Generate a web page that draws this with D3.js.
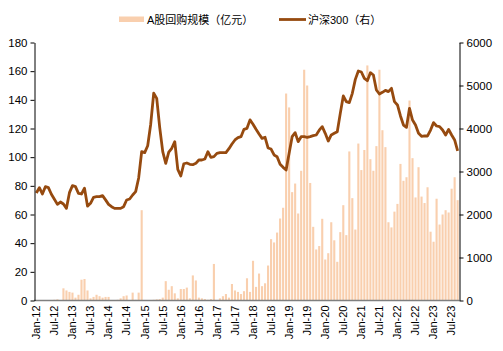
<!DOCTYPE html>
<html>
<head>
<meta charset="utf-8">
<script src="https://cdn.jsdelivr.net/npm/d3@7"></script>
<style>
  html, body { margin: 0; padding: 0; background: #fff; }
  svg text { font-family: "Liberation Sans", "Noto Sans CJK SC", Arial, sans-serif; fill: #000; }
</style>
</head>
<body>
<div id="chart"></div>
<script>

  // ---------------------------//
  //            DATA            //
  // ---------------------------//

  // monthly, Jan-12 .. Sep-23
  var startMonth = new Date(2012, 0, 1);
  var monthCount = 141;

  // A股回购规模（亿元）
  var buyback = [
    0, 0, 0, 0, 0, 0, 0.5, 0.8, 0.3, 8.5, 7, 6,
    5.5, 2, 4, 14.5, 15, 7, 1.5, 2.5, 4, 3, 2, 2.5,
    2.5, 0.3, 0.2, 0.5, 1.5, 3, 3.5, 0.3, 5.5, 0.5, 5.5, 63,
    0.2, 0.3, 0.3, 0.5, 0.8, 1, 2, 13.5, 7.5, 10, 5, 1.5,
    8, 8, 9, 1.5, 17.5, 14, 2, 1.5, 1, 0.5, 1, 25.5,
    0.3, 1.5, 3, 4.5, 2, 11.5, 7, 6, 4.5, 6.5, 15.5, 6,
    27.7, 9.5, 18.8, 10, 12, 24.4, 42.8, 40.5, 47.4, 57.2, 64.7, 144.4,
    134.7, 75.6, 81.6, 60.7, 90.5, 161, 150, 82, 51.4, 35.6, 38, 57,
    28.6, 33, 54.6, 42, 27, 47.7, 66.5, 45.6, 104, 71.4, 49.5, 109.5,
    91, 105, 164, 98.6, 90.5, 107.7, 161, 118.8, 107, 54.6, 51, 62,
    67.4, 95.3, 83.5, 86, 139.5, 99.3, 71.9, 93, 72.5, 68, 79, 48,
    41, 71, 53, 60, 63, 61.4, 78, 86, 70
  ];

  // 沪深300（右）
  var csi300 = [
    2500, 2625, 2477, 2647, 2624, 2470, 2353, 2236, 2290, 2244, 2143, 2508,
    2671, 2647, 2492, 2477, 2610, 2195, 2260, 2399, 2415, 2415, 2438, 2340,
    2236, 2182, 2143, 2143, 2143, 2182, 2337, 2360, 2453, 2531, 2850, 3461,
    3438, 3600, 4100, 4820, 4700, 4020, 3461, 3190, 3450, 3540, 3694, 3050,
    2895, 3180, 3198, 3167, 3159, 3190, 3267, 3267, 3290, 3461, 3329, 3345,
    3422, 3438, 3438, 3438, 3531, 3640, 3733, 3787, 3810, 3981, 4004, 4200,
    4100, 3981, 3872, 3771, 3795, 3547, 3523, 3384, 3345, 3167, 3097, 3035,
    3422, 3810, 3903, 3694, 3810, 3810, 3795, 3810, 3833, 3849, 3960, 4043,
    3888, 3709, 3849, 3888, 3926, 4352, 4756, 4624, 4601, 4818, 5143, 5337,
    5314, 5167, 5112, 5298, 5244, 4895, 4802, 4841, 4887, 4857, 4934, 4624,
    4547, 4291, 4081, 4027, 4470, 4198, 4081, 3888, 3818, 3826, 3826, 3965,
    4136, 4058, 4043, 3965, 3849, 3980, 3849, 3733, 3480
  ];

  var xTickLabels = [
    "Jan-12", "Jul-12", "Jan-13", "Jul-13", "Jan-14", "Jul-14", "Jan-15", "Jul-15",
    "Jan-16", "Jul-16", "Jan-17", "Jul-17", "Jan-18", "Jul-18", "Jan-19", "Jul-19",
    "Jan-20", "Jul-20", "Jan-21", "Jul-21", "Jan-22", "Jul-22", "Jan-23", "Jul-23"
  ];
  var leftTicks = [0, 20, 40, 60, 80, 100, 120, 140, 160, 180];
  var rightTicks = [0, 1000, 2000, 3000, 4000, 5000, 6000];
  var legendNames = ["A股回购规模（亿元）", "沪深300（右）"];

  var months = d3.timeMonth.range(startMonth, d3.timeMonth.offset(startMonth, monthCount));
  var fmt = d3.timeFormat("%b-%y");

  var data = months.map(function(m, i) {
    return { month: fmt(m), buyback: buyback[i], csi: csi300[i] };
  });

  // ---------------------------//
  //         DIMENSIONS         //
  // ---------------------------//

  var width = 503;
  var height = 351;
  var margin = { top: 42.5, right: 44, bottom: 50.5, left: 35 };

  var barColor = "#f9cfae";
  var lineColor = "#964a0f";

  var svg = d3.select("#chart")
    .append("svg")
    .attr("width", width)
    .attr("height", height);

  // ---------------------------//
  //       AXIS  AND SCALE      //
  // ---------------------------//

  var x = d3.scaleBand()
    .domain(data.map(function(d) { return d.month; }))
    .range([margin.left, width - margin.right])
    .paddingInner(0.3)
    .paddingOuter(0.1);

  var yLeft = d3.scaleLinear()
    .domain([0, 180])
    .range([height - margin.bottom, margin.top]);

  var yRight = d3.scaleLinear()
    .domain([0, 6000])
    .range([height - margin.bottom, margin.top]);

  svg.append("g")
    .selectAll("rect")
    .data(data)
    .enter()
    .append("rect")
    .attr("x", function(d) { return x(d.month); })
    .attr("y", function(d) { return yLeft(d.buyback); })
    .attr("width", x.bandwidth())
    .attr("height", function(d) { return yLeft(0) - yLeft(d.buyback); })
    .attr("fill", barColor);

  var line = d3.line()
    .x(function(d) { return x(d.month) + x.bandwidth() / 2; })
    .y(function(d) { return yRight(d.csi); });

  svg.append("path")
    .datum(data)
    .attr("fill", "none")
    .attr("stroke", lineColor)
    .attr("stroke-width", 2.8)
    .attr("stroke-linejoin", "round")
    .attr("d", line);

  // x axis
  var xAxis = svg.append("g")
    .attr("transform", "translate(0," + (height - margin.bottom) + ")")
    .call(d3.axisBottom(x)
      .tickValues(xTickLabels)
      .tickSize(0)
      .tickSizeOuter(0));
  xAxis.select(".domain")
    .attr("stroke", "#7f7f7f")
    .attr("stroke-width", 1.3)
    .attr("d", "M" + (margin.left - 1) + ",0H" + (width - margin.right));
  xAxis.selectAll("text")
    .style("font-size", "11px")
    .attr("transform", "rotate(-90)")
    .attr("text-anchor", "end")
    .attr("dy", "0.35em")
    .attr("x", -5)
    .attr("y", 0);

  // left axis
  var leftAxis = svg.append("g")
    .attr("transform", "translate(" + (margin.left - 0.5) + ",0)")
    .call(d3.axisLeft(yLeft).tickValues(leftTicks).tickSize(4).tickSizeOuter(0).tickPadding(3));
  leftAxis.selectAll("text").style("font-size", "11.5px");
  leftAxis.select(".domain").attr("stroke", "#000");

  // right axis
  var rightAxis = svg.append("g")
    .attr("transform", "translate(" + (width - margin.right + 0.5) + ",0)")
    .call(d3.axisRight(yRight).tickValues(rightTicks).tickFormat(d3.format("d"))
      .tickSize(4).tickSizeOuter(0).tickPadding(3));
  rightAxis.selectAll("text").style("font-size", "11.5px");
  rightAxis.select(".domain").attr("stroke", "#000");

  // ---------------------------//
  //           LEGEND           //
  // ---------------------------//

  var legend = svg.append("g");

  legend.append("rect")
    .attr("x", 119)
    .attr("y", 16.5)
    .attr("width", 25)
    .attr("height", 5.5)
    .attr("fill", barColor);

  legend.append("text")
    .attr("x", 147)
    .attr("y", 23.5)
    .style("font-size", "11px")
    .text(legendNames[0]);

  legend.append("line")
    .attr("x1", 279)
    .attr("x2", 306)
    .attr("y1", 19.5)
    .attr("y2", 19.5)
    .attr("stroke", lineColor)
    .attr("stroke-width", 2.8);

  legend.append("text")
    .attr("x", 308)
    .attr("y", 23.5)
    .style("font-size", "11px")
    .text(legendNames[1]);

</script>
</body>
</html>
